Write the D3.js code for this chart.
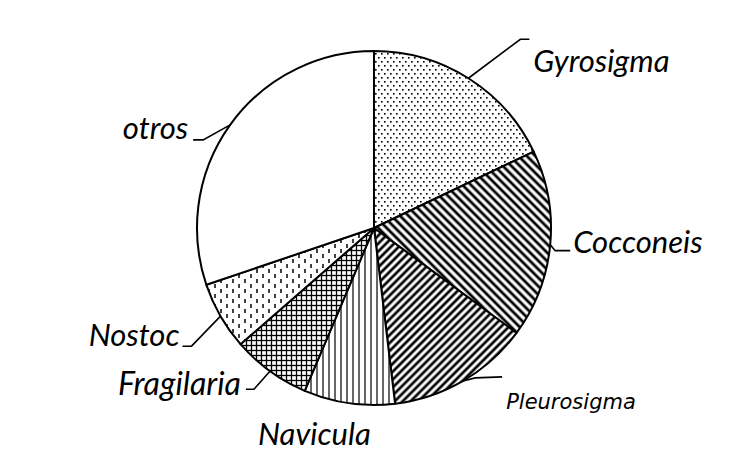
<!DOCTYPE html>
<html>
<head>
<meta charset="utf-8">
<script src="https://cdn.jsdelivr.net/npm/d3@7"></script>
<style>
  body { margin: 0; background: #fff; }
  text { font-family: Lato, "Open Sans", sans-serif; font-style: italic; fill: #000; }
  text.small { font-family: "DejaVu Sans", "Open Sans", sans-serif; }
</style>
</head>
<body>
<svg width="747" height="456"></svg>
<script>
// genus names and their share (%), clockwise from 12 o'clock
const genera = ["Gyrosigma", "Cocconeis", "Pleurosigma", "Navicula", "Fragilaria", "Nostoc", "otros"];
const shares = [17.9, 17.2, 13.0, 8.3, 7.2, 6.2, 30.2];
const fills = ["dots", "diagDown", "diagUp", "vert", "grid", "dashes", "none"];

// leader line elbow / end offsets and label placement (layout only)
const labelLayout = [
    { elbow: [52, -39], end: [9, 0], text: [4, 33], anchor: "start", size: 31, cls: "" },
    { elbow: [5, 6], end: [15, 0], text: [3, 2], anchor: "start", size: 31, cls: "" },
    { elbow: [12, -3], end: [27, -1], text: [4, 32], anchor: "start", size: 21, cls: "small" },
    { elbow: null, end: null, text: [-91, 42], anchor: "start", size: 31, cls: "" },
    { elbow: [-16, 18], end: [-8, 0], text: [-5, 6], anchor: "end", size: 32, cls: "" },
    { elbow: [-29, 30], end: [-9, 0], text: [-3, 0], anchor: "end", size: 31, cls: "" },
    { elbow: [-27, 15], end: [-10, 0], text: [-5, -1], anchor: "end", size: 31, cls: "" }
];

let svg = d3.select("svg");
const cx = 374, cy = 228, radius = 177;

let defs = svg.append("defs");

// fill patterns
let p = defs.append("pattern").attr("id", "dots")
    .attr("patternUnits", "userSpaceOnUse").attr("width", 6).attr("height", 8);
p.append("rect").attr("width", 6).attr("height", 8).attr("fill", "#fff");
p.append("rect").attr("x", 1).attr("y", 1).attr("width", 1.6).attr("height", 1.6).attr("fill", "#000");
p.append("rect").attr("x", 4).attr("y", 5).attr("width", 1.6).attr("height", 1.6).attr("fill", "#000");

p = defs.append("pattern").attr("id", "diagDown")
    .attr("patternUnits", "userSpaceOnUse").attr("width", 6).attr("height", 6)
    .attr("patternTransform", "rotate(-45)");
p.append("rect").attr("width", 6).attr("height", 6).attr("fill", "#fff");
p.append("line").attr("x1", 3).attr("y1", 0).attr("x2", 3).attr("y2", 6)
    .attr("stroke", "#000").attr("stroke-width", 2.8);

p = defs.append("pattern").attr("id", "diagUp")
    .attr("patternUnits", "userSpaceOnUse").attr("width", 5.6).attr("height", 6)
    .attr("patternTransform", "rotate(45)");
p.append("rect").attr("width", 5.6).attr("height", 6).attr("fill", "#fff");
p.append("line").attr("x1", 2.8).attr("y1", 0).attr("x2", 2.8).attr("y2", 6)
    .attr("stroke", "#000").attr("stroke-width", 2.7);

p = defs.append("pattern").attr("id", "vert")
    .attr("patternUnits", "userSpaceOnUse").attr("width", 6).attr("height", 6);
p.append("rect").attr("width", 6).attr("height", 6).attr("fill", "#fff");
p.append("line").attr("x1", 3).attr("y1", 0).attr("x2", 3).attr("y2", 6)
    .attr("stroke", "#000").attr("stroke-width", 1.2);

p = defs.append("pattern").attr("id", "grid")
    .attr("patternUnits", "userSpaceOnUse").attr("width", 5).attr("height", 5);
p.append("rect").attr("width", 5).attr("height", 5).attr("fill", "#fff");
p.append("line").attr("x1", 2.5).attr("y1", 0).attr("x2", 2.5).attr("y2", 5)
    .attr("stroke", "#000").attr("stroke-width", 1.3);
p.append("line").attr("x1", 0).attr("y1", 2.5).attr("x2", 5).attr("y2", 2.5)
    .attr("stroke", "#000").attr("stroke-width", 1.3);

p = defs.append("pattern").attr("id", "dashes")
    .attr("patternUnits", "userSpaceOnUse").attr("width", 12).attr("height", 10);
p.append("rect").attr("width", 12).attr("height", 10).attr("fill", "#fff");
p.append("line").attr("x1", 3).attr("y1", 1).attr("x2", 3).attr("y2", 5)
    .attr("stroke", "#000").attr("stroke-width", 1.5);
p.append("line").attr("x1", 9).attr("y1", 6).attr("x2", 9).attr("y2", 10)
    .attr("stroke", "#000").attr("stroke-width", 1.5);

function fillFor(i) {
    return fills[i] === "none" ? "#fff" : "url(#" + fills[i] + ")";
}

let pie = d3.pie().sort(null).value(function (d) { return d; });
let arcs = pie(shares);

let arc = d3.arc().innerRadius(0).outerRadius(radius);
let rim = d3.arc().innerRadius(radius).outerRadius(radius);

let g = svg.append("g").attr("transform", "translate(" + cx + "," + cy + ")");

g.selectAll("path.slice")
    .data(arcs)
    .join("path")
    .attr("class", "slice")
    .attr("d", arc)
    .attr("fill", function (d, i) { return fillFor(i); })
    .attr("stroke", "#000")
    .attr("stroke-width", 2)
    .attr("stroke-linejoin", "round");

// leader lines and labels
arcs.forEach(function (d, i) {
    let L = labelLayout[i];
    let p0 = rim.centroid(d);
    let tx, ty;
    if (L.elbow) {
        let p1 = [p0[0] + L.elbow[0], p0[1] + L.elbow[1]];
        let p2 = [p1[0] + L.end[0], p1[1] + L.end[1]];
        g.append("polyline")
            .attr("points", [p0, p1, p2].map(function (q) { return q.join(","); }).join(" "))
            .attr("fill", "none")
            .attr("stroke", "#000")
            .attr("stroke-width", 1.6);
        tx = p2[0] + L.text[0];
        ty = p2[1] + L.text[1];
    } else {
        tx = p0[0] + L.text[0];
        ty = p0[1] + L.text[1];
    }
    g.append("text")
        .attr("class", L.cls)
        .attr("x", tx)
        .attr("y", ty)
        .attr("text-anchor", L.anchor)
        .attr("font-size", L.size)
        .text(genera[i]);
});
</script>
</body>
</html>
